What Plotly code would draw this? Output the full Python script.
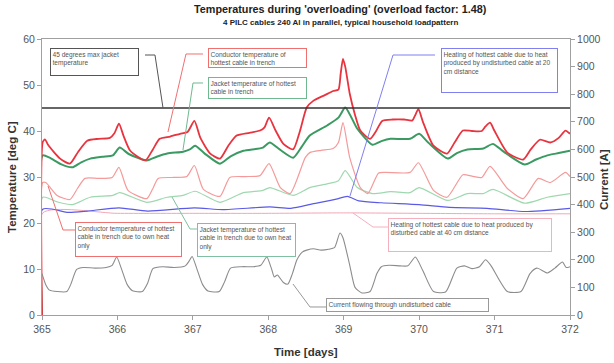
import plotly.graph_objects as go

# ---------------- data ----------------
t_hot_cond = [365.0, 365.01, 365.04, 365.08, 365.24, 365.37, 365.48, 365.6, 365.75, 365.9, 365.96, 366.02, 366.08,
              366.17, 366.37, 366.47, 366.56, 366.7, 366.83, 366.93, 367.02, 367.1, 367.23, 367.36, 367.47, 367.58,
              367.75, 367.89, 367.95, 368.01, 368.1, 368.2, 368.33, 368.42, 368.51, 368.6, 368.75, 368.86, 368.93,
              368.96, 368.99, 369.02, 369.08, 369.15, 369.22, 369.35, 369.43, 369.51, 369.65, 369.8, 369.91, 369.95,
              369.99, 370.05, 370.19, 370.37, 370.47, 370.58, 370.7, 370.83, 370.88, 370.94, 371.0, 371.17, 371.38,
              371.48, 371.6, 371.74, 371.85, 371.94, 372.0]
hot_cond = [0, 37.6, 38.2, 37.0, 34.0, 32.9, 35.5, 37.9, 38.3, 38.5, 39.5, 41.6, 39.0,
            35.7, 33.6, 36.0, 38.3, 38.8, 39.4, 39.8, 42.2, 38.5, 35.1, 34.0, 36.8, 39.0,
            39.6, 40.1, 40.8, 42.9, 40.0, 37.2, 36.0, 40.0, 45.1, 46.6, 47.8, 48.7, 49.0,
            52.5, 55.7, 54.0, 48.1, 43.5, 40.1, 38.3, 40.0, 42.2, 42.5, 42.5, 42.3, 43.5,
            44.8, 42.0, 36.8, 35.1, 37.5, 40.1, 40.0, 40.0, 41.0, 41.8, 40.0, 35.3, 33.8,
            36.0, 38.1, 37.5, 38.5, 40.1, 39.4]

t_hot_jack = [365.0, 365.01, 365.1, 365.25, 365.4, 365.52, 365.64, 365.8, 365.94, 366.03, 366.15, 366.39, 366.52,
              366.66, 366.87, 366.96, 367.03, 367.15, 367.36, 367.5, 367.67, 367.93, 368.02, 368.15, 368.33, 368.44,
              368.55, 368.78, 368.93, 369.02, 369.1, 369.18, 369.38, 369.5, 369.62, 369.88, 370.0, 370.12, 370.38,
              370.5, 370.64, 370.85, 370.98, 371.12, 371.4, 371.55, 371.7, 371.85, 372.0]
hot_jack = [0, 34.7, 34.2, 32.8, 32.1, 33.2, 34.0, 34.4, 34.7, 36.4, 35.0, 33.6, 34.4,
            35.1, 35.5, 36.0, 36.8, 35.2, 32.9, 34.5, 35.7, 36.4, 37.5, 36.0, 34.2, 36.5,
            39.0, 41.2, 42.9, 45.1, 43.0, 40.5, 37.0, 37.8, 38.3, 38.3, 39.4, 37.5, 34.0,
            35.2, 36.0, 36.2, 37.2, 35.5, 32.7, 33.8, 34.7, 35.2, 35.7]

t_own_cond = [365.0, 365.01, 365.05, 365.2, 365.37, 365.47, 365.57, 365.75, 365.93, 366.02, 366.14, 366.39, 366.47,
              366.54, 366.75, 366.92, 367.02, 367.14, 367.36, 367.49, 367.7, 367.89, 368.01, 368.16, 368.29, 368.49,
              368.55, 368.7, 368.86, 368.93, 368.99, 369.08, 369.22, 369.32, 369.46, 369.55, 369.88, 369.99, 370.19,
              370.37, 370.58, 370.7, 370.83, 370.94, 371.17, 371.38, 371.58, 371.74, 371.94, 372.0]
own_cond = [0, 28.8, 28.8, 26.0, 25.1, 27.5, 29.7, 29.7, 29.9, 32.1, 27.1, 25.3, 27.5,
            29.7, 29.9, 30.1, 32.5, 27.3, 25.8, 29.9, 30.1, 30.3, 32.9, 27.7, 26.4, 34.2,
            35.3, 35.8, 36.2, 37.5, 41.8, 34.2, 27.7, 26.4, 30.8, 31.0, 31.0, 33.1, 27.1,
            25.6, 30.5, 30.2, 29.9, 32.3, 27.5, 25.3, 29.7, 28.8, 31.0, 30.1]

t_own_jack = [365.0, 365.01, 365.2, 365.4, 365.64, 365.94, 366.03, 366.39, 366.66, 366.87, 367.03, 367.36, 367.67,
              367.93, 368.02, 368.33, 368.55, 368.78, 368.93, 369.02, 369.18, 369.38, 369.62, 369.88, 370.0, 370.38,
              370.64, 370.85, 370.98, 371.4, 371.7, 372.0]
own_jack = [0, 25.6, 24.6, 24.0, 25.6, 26.0, 26.6, 24.5, 25.6, 26.0, 26.9, 24.5, 26.6,
            27.1, 27.7, 26.0, 27.7, 28.5, 29.2, 31.4, 27.7, 26.4, 26.8, 26.6, 27.7, 24.9,
            26.4, 26.4, 27.3, 24.3, 25.6, 26.4]

t_heat20 = [365.0, 365.01, 365.35, 365.6, 366.02, 366.4, 367.02, 367.4, 368.02, 368.3, 368.6, 368.9, 369.05,
            369.2, 369.5, 370.0, 370.4, 370.9, 371.4, 372.0]
heat20 = [0, 23.0, 22.3, 22.6, 23.3, 22.6, 23.3, 22.9, 23.5, 23.2, 24.2, 25.2, 25.8,
          24.8, 24.4, 24.0, 23.4, 23.2, 22.5, 23.2]

t_heat40 = [365.0, 365.01, 366.0, 367.0, 368.0, 369.0, 370.0, 371.0, 372.0]
heat40 = [0, 22.2, 22.1, 22.1, 22.1, 22.2, 22.1, 22.0, 22.0]

t_current = [365.0, 365.05, 365.1, 365.2, 365.33, 365.38, 365.46, 365.55, 365.7, 365.85, 365.93, 365.99, 366.05,
             366.13, 366.2, 366.33, 366.4, 366.47, 366.6, 366.75, 366.9, 366.95, 366.99, 367.05, 367.13, 367.2,
             367.35, 367.42, 367.5, 367.65, 367.8, 367.9, 367.98, 368.04, 368.08, 368.12, 368.2, 368.26, 368.32,
             368.38, 368.45, 368.51, 368.6, 368.7, 368.8, 368.88, 368.95, 368.99, 369.08, 369.15, 369.24, 369.35,
             369.44, 369.5, 369.6, 369.75, 369.85, 369.95, 370.05, 370.19, 370.35, 370.5, 370.6, 370.7, 370.8,
             370.88, 370.95, 371.17, 371.35, 371.47, 371.56, 371.7, 371.8, 371.9, 371.95, 372.0]
current = [150, 110, 90, 85, 85, 110, 165, 172, 170, 172, 180, 210, 170,
           110, 88, 85, 115, 168, 175, 172, 178, 195, 212, 170, 110, 87,
           85, 120, 170, 175, 175, 180, 210, 170, 138, 145, 118, 112, 150,
           200, 228, 235, 240, 235, 238, 245, 297, 280, 180, 100, 80, 85,
           150, 175, 180, 178, 178, 210, 160, 85, 83, 170, 178, 168, 175,
           200, 180, 85, 85, 150, 170, 152, 170, 192, 172, 175]

t_limit = [365, 372]
limit = [45, 45]

x_ticks = [365, 366, 367, 368, 369, 370, 371, 372]

# ---------------- layout helpers ----------------
W, H = 614, 363
# plot area in picture pixels
L, R, T, B = 42, 570, 39, 315


def px(x):
    return (x - L) / (R - L)


def py(y):
    return (B - y) / (B - T)


FONT = "Liberation Sans, Arial, sans-serif"

fig = go.Figure()


def add(tx, ty, color, width, axis="y", smooth=0.6):
    fig.add_trace(go.Scatter(x=tx, y=ty, mode="lines", yaxis=axis,
                             line=dict(color=color, width=width, shape="spline", smoothing=smooth),
                             hoverinfo="skip"))


add(t_current, current, "#8c8c8c", 1.1, "y2")
add(t_heat40, heat40, "#f4a6b4", 1.0)
add(t_heat20, heat20, "#5a5ae6", 1.2)
add(t_own_jack, own_jack, "#9fd8b0", 1.2)
add(t_own_cond, own_cond, "#f59a9a", 1.2)
add(t_hot_jack, hot_jack, "#3a9a62", 2.0)
add(t_hot_cond, hot_cond, "#e8343f", 1.8)
add(t_limit, limit, "#333333", 1.4)

# annotation boxes (pixel geometry) and leader lines
boxes = [
    ("45 degrees max jacket<br>temperature", 50, 48, 139, 76, "#555555", [(145, 55), (155, 55), (163, 108)]),
    ("Conductor temperature of<br>hottest cable in trench", 208, 48, 307, 68, "#f07070",
     [(203, 54), (186, 54), (168, 132)]),
    ("Jacket temperature of hottest<br>cable in trench", 208, 77, 307, 99, "#70b890",
     [(203, 83), (193, 83), (183, 150)]),
    ("Heating of hottest cable due to heat<br>produced by undisturbed cable at 20<br>cm distance",
     441, 48, 558, 93, "#8080f0", [(435, 55), (393, 55), (350, 196)]),
    ("Conductor temperature of hottest<br>cable in trench due to own heat<br>only", 75, 222, 182, 257,
     "#f07070", [(75, 230), (63, 230), (48, 186)]),
    ("Jacket temperature of hottest<br>cable in trench due to own heat<br>only", 197, 223, 296, 257,
     "#80c0a0", [(197, 229), (190, 229), (172, 197)]),
    ("Heating of hottest cable due to heat produced by<br>disturbed cable at 40 cm distance", 388, 218, 552, 252,
     "#f4b0bc", [(388, 227), (373, 227), (353, 213)]),
    ("Current flowing through undisturbed cable", 326, 298, 489, 312, "#999999",
     [(326, 307), (310, 307), (293, 284)]),
]

annotations = []
shapes = []
for text, x0, y0, x1, y1, col, pts in boxes:
    pad = 1.5
    annotations.append(dict(
        text=text, xref="paper", yref="paper", x=px(x0), y=py(y0), xanchor="left", yanchor="top",
        showarrow=False, align="left", valign="top", width=x1 - x0 - 2 * pad - 2, height=y1 - y0 - 2 * pad - 2,
        bordercolor=col, borderwidth=1, borderpad=pad, bgcolor="white",
        font=dict(family=FONT, size=6.6, color="#555555")))
    path = "M " + " L ".join(f"{px(a):.4f},{py(b):.4f}" for a, b in pts)
    shapes.append(dict(type="path", xref="paper", yref="paper", path=path,
                       line=dict(color=col, width=1), layer="above"))

annotations += [
    dict(text="<b>Temperatures during 'overloading' (overload factor: 1.48)</b>", xref="paper", yref="paper",
         x=px(340), y=py(9), showarrow=False, xanchor="center", yanchor="middle",
         font=dict(family=FONT, size=10.8, color="#222222")),
    dict(text="<b>4 PILC cables 240 Al in parallel, typical household loadpattern</b>", xref="paper", yref="paper",
         x=px(340), y=py(23), showarrow=False, xanchor="center", yanchor="middle",
         font=dict(family=FONT, size=8, color="#222222")),
    dict(text="<b>Current [A]</b>", xref="paper", yref="paper", x=px(604), y=py(180), showarrow=False,
         xanchor="center", yanchor="middle", textangle=-90,
         font=dict(family=FONT, size=11.5, color="#333333")),
    dict(text="<b>Temperature [deg C]</b>", xref="paper", yref="paper", x=px(12), y=py(177), showarrow=False,
         xanchor="center", yanchor="middle", textangle=-90,
         font=dict(family=FONT, size=11.5, color="#333333")),
    dict(text="<b>Time [days]</b>", xref="paper", yref="paper", x=px(306), y=py(352), showarrow=False,
         xanchor="center", yanchor="middle",
         font=dict(family=FONT, size=11.5, color="#333333")),
]

axis_common = dict(showgrid=False, zeroline=False, showline=True, linecolor="#a0a0a0", ticks="outside",
                   ticklen=4, tickcolor="#a0a0a0", automargin=False,
                   tickfont=dict(family=FONT, size=10.5, color="#555555"))

fig.update_layout(
    width=W, height=H,
    margin=dict(l=L, r=W - R, t=T, b=H - B, autoexpand=False),
    paper_bgcolor="white", plot_bgcolor="white", showlegend=False,
    font=dict(family=FONT, size=10, color="#555555"),
    xaxis=dict(range=[365, 372], tickvals=x_ticks, ticktext=[str(v) for v in x_ticks], mirror=True,
               **axis_common),
    yaxis=dict(range=[0, 60], dtick=10, **axis_common),
    yaxis2=dict(range=[0, 1000], dtick=100, overlaying="y", side="right", **axis_common),
    annotations=annotations, shapes=shapes,
)

# remove the browser's default 8px body margin so the figure sits at the page corner
fig.write_html("out.html", config={"displayModeBar": False},
               post_script="document.body.style.margin='0px';")
